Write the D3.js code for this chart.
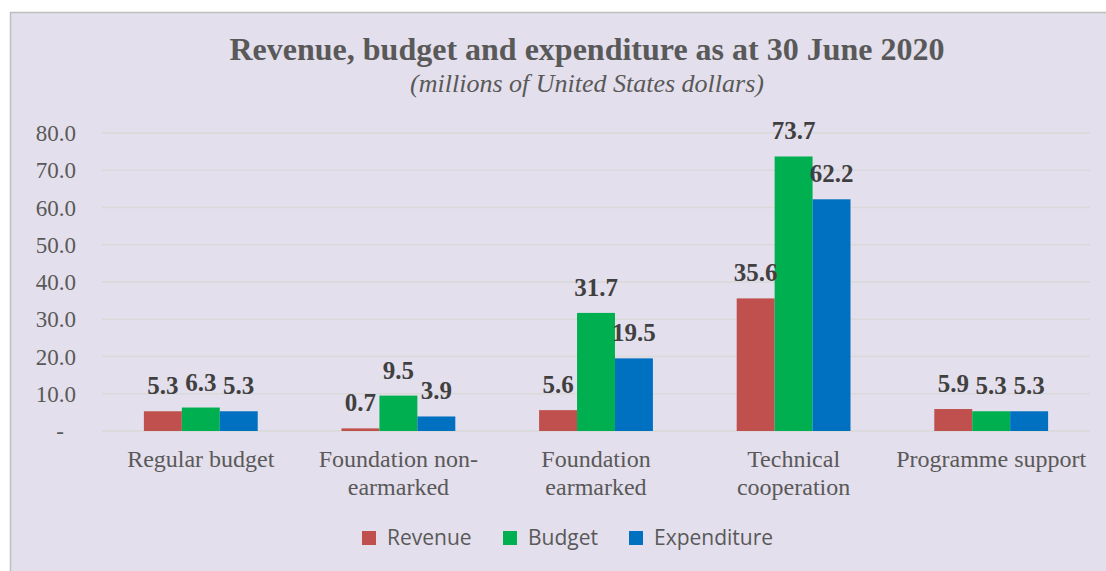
<!DOCTYPE html>
<html>
<head>
<meta charset="utf-8">
<script src="https://cdn.jsdelivr.net/npm/d3@7"></script>
<style>
  body { margin: 0; background: #fff; }
  svg { display: block; }
</style>
</head>
<body>
<script>
// chart data
var categories = [["Regular budget"], ["Foundation non-", "earmarked"], ["Foundation", "earmarked"], ["Technical", "cooperation"], ["Programme support"]];
var seriesNames = ["Revenue", "Budget", "Expenditure"];
var revenue = [5.3, 0.7, 5.6, 35.6, 5.9];
var budget = [6.3, 9.5, 31.7, 73.7, 5.3];
var expenditure = [5.3, 3.9, 19.5, 62.2, 5.3];
var yTicks = [0, 10, 20, 30, 40, 50, 60, 70, 80];
var colors = ["#C0504D", "#00B050", "#0070C0"];

var W = 1106, H = 571;
var serif = "'Liberation Serif', 'Times New Roman', serif";
var svg = d3.select("body").append("svg").attr("width", W).attr("height", H);

// panel
svg.append("rect").attr("x", 10.5).attr("y", 12.5).attr("width", W).attr("height", H)
  .attr("fill", "#E4DFEC").attr("stroke", "#BFBFBF").attr("stroke-width", 1.5);

svg.append("text").attr("x", 587).attr("y", 60).attr("text-anchor", "middle")
  .attr("font-family", serif).attr("font-weight", "bold").attr("font-size", 32)
  .attr("fill", "#595959").text("Revenue, budget and expenditure as at 30 June 2020");
svg.append("text").attr("x", 587).attr("y", 92).attr("text-anchor", "middle")
  .attr("font-family", serif).attr("font-style", "italic").attr("font-size", 26)
  .attr("fill", "#595959").text("(millions of United States dollars)");

var x = d3.scaleBand().domain(d3.range(categories.length)).range([102, 1090]).padding(0);
var xs = d3.scaleBand().domain(seriesNames)
  .range([x.bandwidth() * 0.212, x.bandwidth() * 0.788]).padding(0);
var y = d3.scaleLinear().domain([0, 80]).range([431, 133]);

// gridlines
svg.append("g").selectAll("line").data(yTicks).join("line")
  .attr("x1", 102).attr("x2", 1090)
  .attr("y1", d => y(d)).attr("y2", d => y(d))
  .attr("stroke", "#D9D9D9").attr("stroke-width", 1.5);

// y tick labels
svg.append("g").selectAll("text").data(yTicks).join("text")
  .attr("x", d => d === 0 ? 60 : 76).attr("y", d => y(d)).attr("dy", "0.35em")
  .attr("text-anchor", d => d === 0 ? "middle" : "end")
  .attr("font-family", serif).attr("font-size", 23).attr("fill", "#595959")
  .text(d => d === 0 ? "-" : d3.format(".1f")(d));

var series = [revenue, budget, expenditure];
var bars = [];
series.forEach(function (vals, s) {
  vals.forEach(function (v, i) { bars.push({ s: s, i: i, v: v }); });
});

svg.append("g").selectAll("rect").data(bars).join("rect")
  .attr("x", d => x(d.i) + xs(seriesNames[d.s]))
  .attr("width", xs.bandwidth())
  .attr("y", d => y(d.v))
  .attr("height", d => y(0) - y(d.v))
  .attr("fill", d => colors[d.s]);

// data labels
svg.append("g").selectAll("text").data(bars).join("text")
  .attr("x", d => x(d.i) + xs(seriesNames[d.s]) + xs.bandwidth() / 2)
  .attr("y", d => y(d.v) - 17)
  .attr("text-anchor", "middle")
  .attr("font-family", serif).attr("font-weight", "bold").attr("font-size", 25)
  .attr("fill", "#404040")
  .text(d => d3.format(".1f")(d.v));

// category labels
var cat = svg.append("g").selectAll("text").data(categories).join("text")
  .attr("x", (d, i) => x(i) + x.bandwidth() / 2)
  .attr("y", 467)
  .attr("text-anchor", "middle")
  .attr("font-family", serif).attr("font-size", 24).attr("fill", "#595959");
cat.selectAll("tspan").data(d => d).join("tspan")
  .attr("x", function () { return d3.select(this.parentNode).attr("x"); })
  .attr("dy", (d, j) => j === 0 ? 0 : 28)
  .text(d => d);

// legend
var legX = [362, 503, 629];
var leg = svg.append("g").selectAll("g").data(seriesNames).join("g")
  .attr("transform", (d, i) => "translate(" + legX[i] + ",538)");
leg.append("rect").attr("x", 0).attr("y", -7).attr("width", 14).attr("height", 14)
  .attr("fill", (d, i) => colors[i]);
leg.append("text").attr("x", 25).attr("dy", "0.35em")
  .attr("font-family", "Open Sans").attr("font-size", 21).attr("fill", "#595959")
  .text(d => d);
</script>
</body>
</html>
